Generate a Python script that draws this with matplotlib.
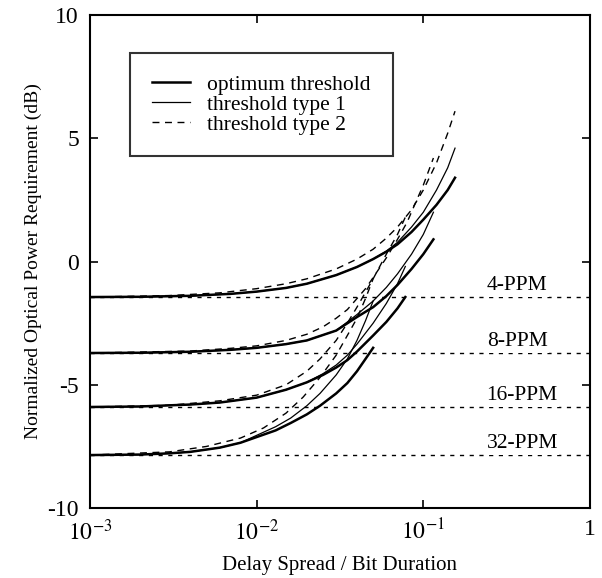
import matplotlib
matplotlib.use('Agg')
import matplotlib.pyplot as plt
from matplotlib.lines import Line2D

plt.rcParams['font.family'] = ['Liberation Serif', 'DejaVu Serif']
plt.rcParams['mathtext.fontset'] = 'stix'

# reference levels (no dispersion) and labels
ppm_labels = ['4-PPM', '8-PPM', '16-PPM', '32-PPM']
ppm_levels = [-1.44, -3.71, -5.9, -7.85]

# optimum threshold
opt_x = {
    '4-PPM': [0.001, 0.002, 0.004, 0.007, 0.01, 0.015, 0.02, 0.03, 0.04, 0.05, 0.06, 0.07, 0.085, 0.1, 0.12, 0.14, 0.155],
    '8-PPM': [0.001, 0.002, 0.004, 0.007, 0.01, 0.015, 0.02, 0.03, 0.04, 0.05, 0.06, 0.07, 0.085, 0.1, 0.115],
    '16-PPM': [0.001, 0.002, 0.004, 0.006, 0.01, 0.015, 0.02, 0.025, 0.03, 0.035, 0.04, 0.05, 0.06, 0.07, 0.078],
    '32-PPM': [0.001, 0.002, 0.003, 0.004, 0.006, 0.008, 0.01, 0.013, 0.016, 0.02, 0.024, 0.03, 0.035, 0.04, 0.045, 0.05],
}
opt_y = {
    '4-PPM': [-1.44, -1.43, -1.39, -1.31, -1.22, -1.07, -0.9, -0.55, -0.22, 0.1, 0.4, 0.7, 1.2, 1.7, 2.3, 2.9, 3.4],
    '8-PPM': [-3.71, -3.7, -3.66, -3.58, -3.5, -3.35, -3.2, -2.8, -2.25, -1.85, -1.4, -0.95, -0.3, 0.3, 0.9],
    '16-PPM': [-5.9, -5.88, -5.8, -5.72, -5.52, -5.2, -4.9, -4.6, -4.3, -4.0, -3.65, -3.0, -2.45, -1.9, -1.44],
    '32-PPM': [-7.85, -7.83, -7.78, -7.72, -7.55, -7.35, -7.12, -6.85, -6.55, -6.2, -5.85, -5.35, -4.93, -4.45, -3.95, -3.5],
}

# threshold type 1
t1_x = {
    '4-PPM': [0.001, 0.002, 0.004, 0.007, 0.01, 0.015, 0.02, 0.03, 0.04, 0.05, 0.06, 0.07, 0.085, 0.1, 0.12, 0.14, 0.155],
    '8-PPM': [0.001, 0.002, 0.004, 0.007, 0.01, 0.015, 0.02, 0.03, 0.04, 0.05, 0.06, 0.07, 0.085, 0.1, 0.115],
    '16-PPM': [0.001, 0.002, 0.004, 0.006, 0.01, 0.015, 0.02, 0.025, 0.03, 0.035, 0.04, 0.05, 0.06, 0.07, 0.078],
    '32-PPM': [0.001, 0.002, 0.003, 0.004, 0.006, 0.008, 0.01, 0.013, 0.016, 0.02, 0.024, 0.03, 0.035, 0.04, 0.045, 0.05],
}
t1_y = {
    '4-PPM': [-1.44, -1.43, -1.39, -1.31, -1.22, -1.07, -0.9, -0.55, -0.22, 0.1, 0.42, 0.78, 1.4, 2.0, 2.9, 3.8, 4.6],
    '8-PPM': [-3.71, -3.7, -3.66, -3.58, -3.5, -3.35, -3.2, -2.8, -2.15, -1.6, -1.05, -0.5, 0.3, 1.1, 2.0],
    '16-PPM': [-5.9, -5.88, -5.8, -5.72, -5.52, -5.2, -4.9, -4.55, -4.2, -3.8, -3.35, -2.5, -1.7, -0.9, -0.2],
    '32-PPM': [-7.85, -7.83, -7.78, -7.72, -7.55, -7.35, -7.05, -6.7, -6.35, -5.85, -5.35, -4.6, -3.95, -3.2, -2.4, -1.6],
}

# threshold type 2
t2_x = {
    '4-PPM': [0.001, 0.003, 0.006, 0.01, 0.015, 0.02, 0.03, 0.04, 0.05, 0.06, 0.07, 0.085, 0.1, 0.12, 0.14, 0.155],
    '8-PPM': [0.001, 0.004, 0.007, 0.01, 0.015, 0.02, 0.025, 0.03, 0.035, 0.04, 0.045, 0.05, 0.06, 0.07, 0.08, 0.09, 0.1, 0.115],
    '16-PPM': [0.001, 0.003, 0.006, 0.01, 0.015, 0.02, 0.024, 0.03, 0.035, 0.04, 0.05, 0.06, 0.07, 0.078],
    '32-PPM': [0.001, 0.003, 0.005, 0.008, 0.011, 0.015, 0.019, 0.024, 0.03, 0.035, 0.04, 0.045, 0.05],
}
t2_y = {
    '4-PPM': [-1.44, -1.38, -1.27, -1.1, -0.9, -0.7, -0.3, 0.1, 0.5, 0.95, 1.4, 2.1, 2.9, 4.0, 5.2, 6.1],
    '8-PPM': [-3.71, -3.63, -3.52, -3.42, -3.2, -2.95, -2.65, -2.3, -1.95, -1.5, -1.1, -0.65, 0.15, 0.9, 1.6, 2.4, 3.1, 4.2],
    '16-PPM': [-5.9, -5.83, -5.65, -5.42, -5.0, -4.45, -3.95, -3.2, -2.5, -1.85, -0.7, 0.3, 1.1, 1.8],
    '32-PPM': [-7.85, -7.72, -7.5, -7.16, -6.75, -6.15, -5.5, -4.7, -3.8, -3.0, -2.3, -1.5, -0.7],
}

fig = plt.figure(figsize=(6.02, 5.78), dpi=100)
ax = fig.add_axes([0.1495, 0.121, 0.8305, 0.853])

for lab, lev in zip(ppm_labels, ppm_levels):
    ax.plot([1e-3, 1], [lev, lev], color='black', lw=1.0, dashes=(3, 4))
    ax.text(0.24, lev + 0.45, lab, fontsize=15.5, va='center', ha='left',
            bbox=dict(facecolor='white', edgecolor='none', pad=1.0))

for lab in ppm_labels:
    ax.plot(t2_x[lab], t2_y[lab], color='black', lw=1.0, dashes=(5, 4))
    ax.plot(t1_x[lab], t1_y[lab], color='black', lw=0.9)
    ax.plot(opt_x[lab], opt_y[lab], color='black', lw=1.8)

ax.set_xscale('log')
ax.set_xlim(1e-3, 1)
ax.set_ylim(-10, 10)
ax.set_xticks([1e-3, 1e-2, 1e-1, 1])
ax.set_xticklabels([r'$10^{-3}$', r'$10^{-2}$', r'$10^{-1}$', '1'])
ax.minorticks_off()
ax.set_yticks([10, 5, 0, -5, -10])
ax.set_yticklabels(['10', '5', '0', '-5', '-10'])
ax.tick_params(direction='in', length=6, width=1.2, top=True, right=True,
               labelsize=17, pad=8)
for s in ax.spines.values():
    s.set_linewidth(1.5)

ax.set_xlabel('Delay Spread / Bit Duration', fontsize=15, labelpad=8)
ax.set_ylabel('Normalized Optical Power Requirement (dB)', fontsize=14, labelpad=4)

handles = [
    Line2D([], [], color='black', lw=1.8),
    Line2D([], [], color='black', lw=0.9),
    Line2D([], [], color='black', lw=1.0, dashes=(5, 4)),
]
leg = ax.legend(handles, ['optimum threshold', 'threshold type 1', 'threshold type 2'],
                loc='upper left', bbox_to_anchor=(0.08, 0.923), fontsize=15.5,
                frameon=True, fancybox=False, edgecolor='black',
                handlelength=1.8, handletextpad=0.8, labelspacing=0.0,
                borderpad=1.0, borderaxespad=0.0)
leg.get_frame().set_linewidth(1.5)

fig.savefig('out.png', dpi=100)
